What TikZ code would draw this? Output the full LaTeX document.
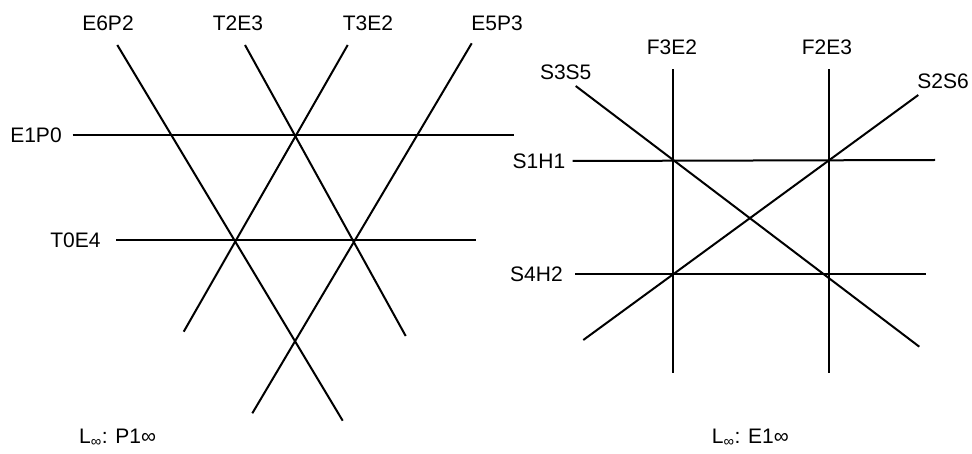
\documentclass[tikz,border=0pt]{standalone}
\usepackage{fontspec}
\setmainfont{Liberation Sans}
\begin{document}
\begin{tikzpicture}[x=1pt,y=-1pt,
  ln/.style={line width=2pt,black},
  lbl/.style={inner sep=0pt,anchor=center,font=\fontsize{21}{25}\selectfont},
  foot/.style={inner sep=0pt,anchor=base west,font=\fontsize{21}{25}\selectfont}]
\useasboundingbox (0,0) rectangle (972,454);
% left diagram endpoints
\coordinate (a1) at (72.7,135); \coordinate (a2) at (514,135);
\coordinate (b1) at (116,240);  \coordinate (b2) at (475.7,240);
\coordinate (c1) at (117.3,45); \coordinate (c2) at (342.7,420.7);
\coordinate (d1) at (245,45);   \coordinate (d2) at (405.7,336);
\coordinate (e1) at (347.7,45); \coordinate (e2) at (183.7,331.7);
\coordinate (f1) at (471.7,43.3); \coordinate (f2) at (252.3,413.3);
\draw[ln] (a1) -- (a2);
\draw[ln] (b1) -- (b2);
\draw[ln] (c1) -- (c2);
\draw[ln] (d1) -- (d2);
\draw[ln] (e1) -- (e2);
\draw[ln] (f1) -- (f2);
\node[lbl] (lE6P2) at (108,23.3) {E6P2};
\node[lbl] (lT2E3) at (238,23.3) {T2E3};
\node[lbl] (lT3E2) at (368,23.3) {T3E2};
\node[lbl] (lE5P3) at (497,23.3) {E5P3};
\node[lbl] (lE1P0) at (36,135) {E1P0};
\node[lbl] (lT0E4) at (75.5,240) {T0E4};
\node[foot] (lLP) at (79,443) {L\textsubscript{∞}: P1∞};
% right diagram endpoints
\coordinate (g1) at (572.7,161); \coordinate (g2) at (935,160);
\coordinate (h1) at (575,274.3); \coordinate (h2) at (925.7,274.3);
\coordinate (i1) at (673,69.3);  \coordinate (i2) at (673,372.7);
\coordinate (j1) at (829,69.3);  \coordinate (j2) at (829,372.7);
\coordinate (k1) at (575.7,86);  \coordinate (k2) at (919.3,346.7);
\coordinate (m1) at (918.3,95);  \coordinate (m2) at (583.3,340);
\draw[ln] (g1) -- (g2);
\draw[ln] (h1) -- (h2);
\draw[ln] (i1) -- (i2);
\draw[ln] (j1) -- (j2);
\draw[ln] (k1) -- (k2);
\draw[ln] (m1) -- (m2);
\node[lbl] (lF3E2) at (672,47.5) {F3E2};
\node[lbl] (lF2E3) at (827,47.5) {F2E3};
\node[lbl] (lS3S5) at (565.7,72.3) {S3S5};
\node[lbl] (lS2S6) at (943,81) {S2S6};
\node[lbl] (lS1H1) at (539,161.3) {S1H1};
\node[lbl] (lS4H2) at (536.5,274) {S4H2};
\node[foot] (lLE) at (711.7,443) {L\textsubscript{∞}: E1∞};
\end{tikzpicture}
\end{document}
